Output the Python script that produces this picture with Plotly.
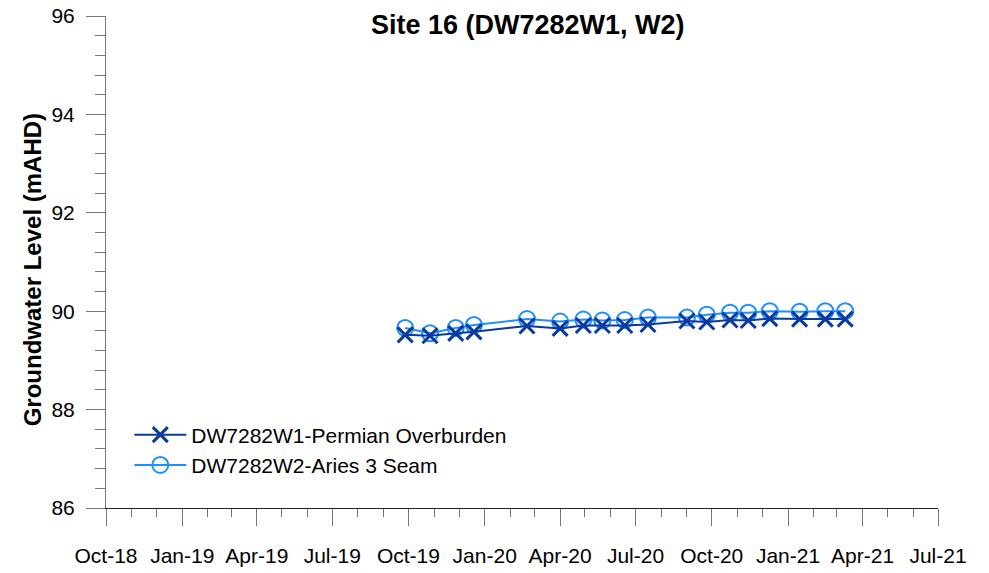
import plotly.graph_objects as go

# Monitoring dates (shared by both bores)
dates = [
    "2019-09-27", "2019-10-27", "2019-11-27", "2019-12-19", "2020-02-21",
    "2020-04-01", "2020-04-29", "2020-05-22", "2020-06-18", "2020-07-16",
    "2020-09-01", "2020-09-25", "2020-10-23", "2020-11-14", "2020-12-10",
    "2021-01-15", "2021-02-15", "2021-03-11",
]

# Groundwater levels (mAHD)
w1_permian = [
    89.52, 89.50, 89.55, 89.58, 89.70, 89.65, 89.71, 89.71, 89.71, 89.73,
    89.80, 89.78, 89.82, 89.81, 89.85, 89.84, 89.84, 89.84,
]
w2_aries = [
    89.66, 89.55, 89.66, 89.72, 89.84, 89.79, 89.83, 89.81, 89.82, 89.87,
    89.87, 89.93, 89.97, 89.97, 90.00, 89.99, 90.00, 90.00,
]

DARK = "#0b3a9e"
LIGHT = "#1e8fff"
FONT = "Liberation Sans, Arial, sans-serif"

fig = go.Figure()

fig.add_trace(go.Scatter(
    x=dates, y=w2_aries, name="DW7282W2-Aries 3 Seam",
    mode="lines+markers", legendrank=2,
    line=dict(color=LIGHT, width=2),
    marker=dict(symbol="circle-open", size=16, color=LIGHT, line=dict(width=2, color=LIGHT)),
))
fig.add_trace(go.Scatter(
    x=dates, y=w1_permian, name="DW7282W1-Permian Overburden",
    mode="lines+markers", legendrank=1,
    line=dict(color=DARK, width=2),
    marker=dict(symbol="x-thin-open", size=15, color=DARK, line=dict(width=3, color=DARK)),
))

fig.update_layout(
    template="none",
    width=989, height=573,
    margin=dict(l=106, r=51, t=16, b=65, autoexpand=False),
    paper_bgcolor="white", plot_bgcolor="white",
    font=dict(family=FONT, size=21, color="black"),
    title=dict(text="<b>Site 16 (DW7282W1, W2)</b>", x=0.507, xanchor="center",
               y=0.958, yanchor="middle", xref="paper",
               font=dict(size=27, family=FONT, color="black")),
    showlegend=True,
    legend=dict(x=0.028, y=0.19, xanchor="left", yanchor="top",
                bgcolor="rgba(0,0,0,0)", font=dict(size=21, family=FONT),
                itemwidth=52, tracegroupgap=0),
    annotations=[dict(
        text="<b>Groundwater Level (mAHD)</b>", textangle=-90,
        xref="paper", yref="paper", x=-0.089, y=0.485,
        xanchor="center", yanchor="middle", showarrow=False,
        font=dict(size=24, family=FONT, color="black"),
    )],
)

fig.update_xaxes(
    type="date", range=["2018-10-01", "2021-07-01"],
    tick0="2018-10-01", dtick="M3", tickformat="%b-%y",
    ticks="outside", ticklen=17, tickwidth=1, tickcolor="#777",
    ticklabelstandoff=12, automargin=False,
    minor=dict(dtick="M1", ticks="outside", ticklen=8, tickwidth=1, tickcolor="#777"),
    showline=True, linecolor="#222", linewidth=1,
    showgrid=False, zeroline=False,
    tickfont=dict(size=21, family=FONT),
)
fig.update_yaxes(
    range=[86, 96], dtick=2, tick0=86,
    ticks="outside", ticklen=19, tickwidth=1, tickcolor="#777",
    automargin=False, ticklabelstandoff=7,
    minor=dict(dtick=0.4, ticks="outside", ticklen=10, tickwidth=1, tickcolor="#777"),
    showline=True, linecolor="#777", linewidth=1,
    showgrid=False, zeroline=False,
    tickfont=dict(size=21, family=FONT),
)

fig.write_html("out.html")
